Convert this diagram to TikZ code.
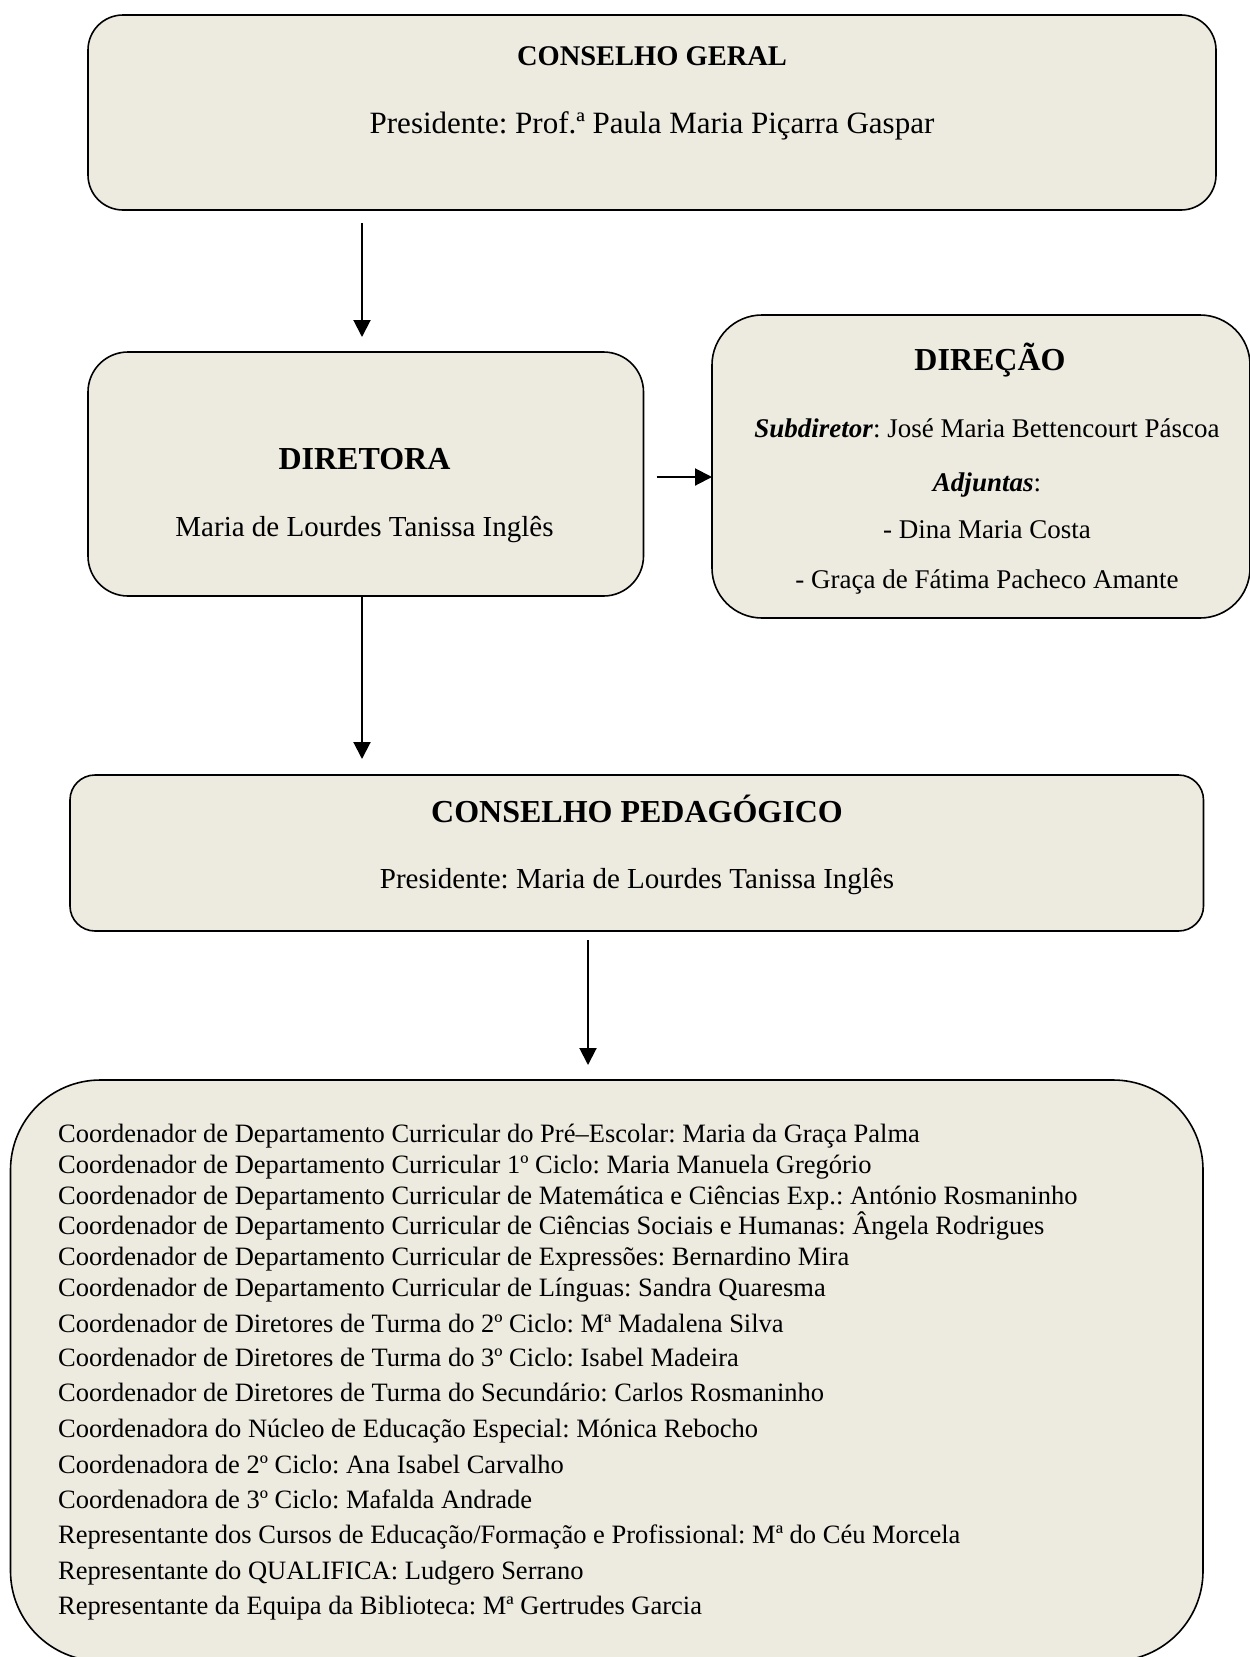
\documentclass[tikz,border=0pt]{standalone}
\usepackage{fontspec}
\setmainfont{Liberation Serif}
\usetikzlibrary{arrows.meta}
\definecolor{boxfill}{RGB}{237,234,224}
\frenchspacing
\begin{document}
\begin{tikzpicture}[x=1pt,y=-1pt,
  box/.style={draw=black, line width=1.6pt, fill=boxfill, inner sep=0pt, outer sep=0pt, rectangle},
  arr/.style={line width=2pt, -{Triangle[length=17pt,width=17pt]}},
  txt/.style={anchor=base, inner sep=0pt},
  ltxt/.style={anchor=base west, inner sep=0pt, font=\fontsize{26.5}{30}\selectfont},
]
\useasboundingbox (0,0) rectangle (1250,1657);
% boxes
\node[box, rounded corners=35pt, minimum width=1128pt, minimum height=195pt] (cg) at (652,112.5) {};
\node[box, rounded corners=40pt, minimum width=555.5pt, minimum height=244pt] (dir) at (365.75,474) {};
\node[box, rounded corners=50pt, minimum width=538pt, minimum height=303pt] (direcao) at (981,466.5) {};
\node[box, rounded corners=25pt, minimum width=1133.5pt, minimum height=156pt] (cp) at (636.75,853) {};
\node[box, rounded corners=90pt, minimum width=1192.5pt, minimum height=581pt] (bot) at (606.75,1370.5) {};
% texts
\node[txt, font=\fontsize{28.5}{32}\selectfont\bfseries] (t1) at (652,65) {CONSELHO GERAL};
\node[txt, font=\fontsize{31}{35}\selectfont] (t2) at (652,133) {Presidente: Prof.ª Paula Maria Piçarra Gaspar};
\node[txt, font=\fontsize{32}{36}\selectfont\bfseries] (t3) at (364.5,469) {DIRETORA};
\node[txt, font=\fontsize{29}{33}\selectfont] (t4) at (364.5,536) {Maria de Lourdes Tanissa Inglês};
\node[txt, font=\fontsize{32}{36}\selectfont\bfseries] (t5) at (990,370) {DIREÇÃO};
\node[txt, font=\fontsize{27}{31}\selectfont] (t6) at (987,437) {\textbf{\textit{Subdiretor}}: José Maria Bettencourt Páscoa};
\node[txt, font=\fontsize{27}{31}\selectfont] (t7) at (987,491) {\textbf{\textit{Adjuntas}}:};
\node[txt, font=\fontsize{27}{31}\selectfont] (t8) at (987,538) {- Dina Maria Costa};
\node[txt, font=\fontsize{27}{31}\selectfont] (t9) at (987,588) {- Graça de Fátima Pacheco Amante};
\node[txt, font=\fontsize{32}{36}\selectfont\bfseries] (t10) at (637,822) {CONSELHO PEDAGÓGICO};
\node[txt, font=\fontsize{29}{33}\selectfont] (t11) at (637,888) {Presidente: Maria de Lourdes Tanissa Inglês};
% list
\node[ltxt] (l1) at (58,1142.5) {Coordenador de Departamento Curricular do Pré–Escolar: Maria da Graça Palma};
\node[ltxt] (l2) at (58,1173) {Coordenador de Departamento Curricular 1º Ciclo: Maria Manuela Gregório};
\node[ltxt] (l3) at (58,1204) {Coordenador de Departamento Curricular de Matemática e Ciências Exp.: António Rosmaninho};
\node[ltxt] (l4) at (58,1234.5) {Coordenador de Departamento Curricular de Ciências Sociais e Humanas: Ângela Rodrigues};
\node[ltxt] (l5) at (58,1265) {Coordenador de Departamento Curricular de Expressões: Bernardino Mira};
\node[ltxt] (l6) at (58,1296) {Coordenador de Departamento Curricular de Línguas: Sandra Quaresma};
\node[ltxt] (l7) at (58,1332) {Coordenador de Diretores de Turma do 2º Ciclo: Mª Madalena Silva};
\node[ltxt] (l8) at (58,1366) {Coordenador de Diretores de Turma do 3º Ciclo: Isabel Madeira};
\node[ltxt] (l9) at (58,1401) {Coordenador de Diretores de Turma do Secundário: Carlos Rosmaninho};
\node[ltxt] (l10) at (58,1437) {Coordenadora do Núcleo de Educação Especial: Mónica Rebocho};
\node[ltxt] (l11) at (58,1473) {Coordenadora de 2º Ciclo: Ana Isabel Carvalho};
\node[ltxt] (l12) at (58,1508) {Coordenadora de 3º Ciclo: Mafalda Andrade};
\node[ltxt] (l13) at (58,1543) {Representante dos Cursos de Educação/Formação e Profissional: Mª do Céu Morcela};
\node[ltxt] (l14) at (58,1579) {Representante do QUALIFICA: Ludgero Serrano};
\node[ltxt] (l15) at (58,1614) {Representante da Equipa da Biblioteca: Mª Gertrudes Garcia};
% connectors
\coordinate (x1) at (362,0);
\coordinate (y2) at (0,477);
\coordinate (x4) at (588,0);
\draw[arr, shorten <=13pt, shorten >=15pt] (cg.south -| x1) -- (dir.north -| x1);
\draw[arr, shorten <=13pt] (dir.east |- y2) -- (direcao.west |- y2);
\draw[arr, shorten >=16pt] (dir.south -| x1) -- (cp.north -| x1);
\draw[arr, shorten <=9pt, shorten >=15pt] (cp.south -| x4) -- (bot.north -| x4);
\end{tikzpicture}
\end{document}
